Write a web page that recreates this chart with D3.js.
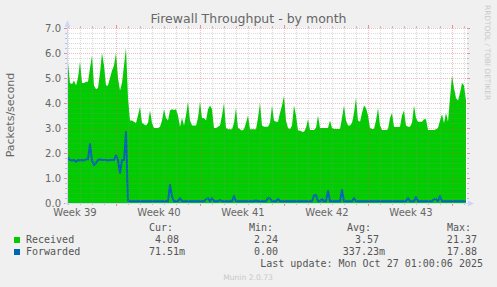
<!DOCTYPE html>
<html>
<head>
<meta charset="utf-8">
<script src="https://cdn.jsdelivr.net/npm/d3@7"></script>
<style>
  html, body { margin: 0; padding: 0; background: #F0F0F0; }
  svg { display: block; }
  text { font-family: "DejaVu Sans", sans-serif; }
  .mono { font-family: "DejaVu Sans Mono", monospace; }
</style>
</head>
<body>
<svg id="chart" width="497" height="287"></svg>
<script>
// ---------------- DATA ----------------
const title = "Firewall Throughput - by month";
const yAxisLabel = "Packets/second";
const yTicks = [0, 1, 2, 3, 4, 5, 6, 7];
const graphStart = Date.UTC(2025, 8, 23, 22, 0);   // Sep 23 22:00
const graphHours = 800;                              // 48000 minutes
const stepHours = 4;                                 // one sample per 4 h

// Received packets/second, one value per 4-hour step
const received = [
  5.6, 4.8, 4.75, 4.9, 4.7, 5.0, 5.65, 4.8, 4.8, 4.85,
  4.85, 5.4, 5.9, 4.7, 4.55, 4.6, 5.2, 6.0, 5.5, 4.7,
  4.7, 5.0, 5.3, 5.5, 6.0, 5.0, 4.5, 4.8, 5.5, 6.2,
  4.2, 3.3, 3.3, 3.25, 3.2, 3.5, 3.85, 3.2, 3.15, 3.1,
  3.2, 3.7, 3.2, 3.0, 3.0, 3.0, 3.05, 3.3, 3.75, 3.4,
  3.3, 3.7, 3.75, 3.72, 3.75, 3.5, 3.05, 3.4, 3.1, 3.5,
  4.05, 3.3, 3.1, 3.1, 3.1, 3.4, 4.05, 3.4, 3.4, 3.3,
  3.75, 3.9, 3.75, 3.0, 3.0, 3.05, 3.1, 3.5, 4.0, 3.0,
  2.95, 2.95, 2.95, 3.2, 3.8, 3.0, 2.95, 2.9, 2.95, 3.2,
  3.5, 2.95, 2.95, 2.95, 2.95, 3.4, 4.0, 3.1, 3.05, 3.05,
  3.05, 3.2, 3.9, 3.3, 3.25, 3.25, 3.6, 3.9, 4.28, 3.3,
  3.0, 2.95, 3.1, 3.9, 3.5, 2.9, 2.9, 2.85, 2.85, 3.0,
  3.35, 2.92, 2.92, 2.92, 3.0, 3.5, 3.0, 3.0, 3.0, 3.0,
  3.0, 3.3, 3.0, 2.96, 2.96, 2.96, 2.96, 3.4, 3.9, 3.3,
  3.1, 3.1, 3.2, 3.6, 4.2, 3.3, 3.25, 3.6, 3.9, 3.8,
  3.5, 3.0, 2.96, 2.96, 3.3, 3.8, 3.1, 2.92, 2.92, 2.92,
  2.95, 3.4, 3.6, 3.05, 3.04, 3.04, 3.05, 3.5, 3.7, 3.1,
  3.05, 3.05, 3.2, 3.9, 3.4, 3.25, 3.25, 3.25, 3.35, 3.35,
  2.92, 2.92, 2.92, 2.92, 2.95, 3.0, 3.3, 3.55, 3.2, 3.6,
  3.25, 4.2, 5.1, 4.6, 4.2, 4.1, 4.4, 4.8, 4.7, 4.1
];

// Forwarded packets/second, one value per 4-hour step
const forwarded = [
  1.8, 1.72, 1.7, 1.72, 1.65, 1.72, 1.7, 1.72, 1.7, 1.75,
  1.75, 2.36, 1.7, 1.52, 1.6, 1.72, 1.75, 1.72, 1.72, 1.72,
  1.7, 1.72, 1.72, 1.72, 1.9, 1.72, 1.2, 1.72, 1.72, 2.84,
  0.1, 0.07, 0.07, 0.07, 0.07, 0.07, 0.07, 0.07, 0.07, 0.07,
  0.07, 0.07, 0.07, 0.07, 0.07, 0.07, 0.07, 0.07, 0.07, 0.07,
  0.07, 0.72, 0.25, 0.07, 0.07, 0.07, 0.2, 0.07, 0.07, 0.07,
  0.07, 0.07, 0.07, 0.07, 0.07, 0.07, 0.07, 0.07, 0.07, 0.15,
  0.2, 0.07, 0.2, 0.07, 0.07, 0.07, 0.12, 0.07, 0.07, 0.07,
  0.07, 0.07, 0.07, 0.28, 0.07, 0.07, 0.07, 0.07, 0.07, 0.07,
  0.07, 0.07, 0.07, 0.07, 0.1, 0.07, 0.07, 0.07, 0.07, 0.07,
  0.2, 0.18, 0.07, 0.07, 0.07, 0.16, 0.07, 0.07, 0.07, 0.07,
  0.07, 0.07, 0.07, 0.07, 0.07, 0.07, 0.07, 0.07, 0.07, 0.07,
  0.07, 0.07, 0.07, 0.3, 0.32, 0.07, 0.07, 0.16, 0.07, 0.07,
  0.48, 0.07, 0.07, 0.07, 0.07, 0.07, 0.07, 0.52, 0.07, 0.07,
  0.07, 0.07, 0.07, 0.2, 0.07, 0.07, 0.07, 0.07, 0.07, 0.07,
  0.07, 0.07, 0.07, 0.07, 0.07, 0.07, 0.07, 0.07, 0.07, 0.07,
  0.07, 0.07, 0.07, 0.07, 0.07, 0.07, 0.07, 0.07, 0.07, 0.07,
  0.2, 0.07, 0.07, 0.07, 0.24, 0.07, 0.07, 0.07, 0.07, 0.07,
  0.07, 0.07, 0.07, 0.15, 0.15, 0.07, 0.28, 0.07, 0.07, 0.07,
  0.07, 0.07, 0.07, 0.07, 0.07, 0.07, 0.07, 0.07, 0.07, 0.07
];

const seriesNames = ["Received", "Forwarded"];
const seriesColors = ["#00CC00", "#0066B3"];
const statHeaders = ["Cur:", "Min:", "Avg:", "Max:"];
const statValues = [
  ["4.08", "2.24", "3.57", "21.37"],
  ["71.51m", "0.00", "337.23m", "17.88"]
];
const lastUpdate = "Last update: Mon Oct 27 01:00:06 2025";
const versionText = "Munin 2.0.73";
const watermark = "RRDTOOL / TOBI OETIKER";

// ---------------- DRAW ----------------
const svg = d3.select("#chart");
const W = 497, H = 287;
const plot = { left: 67, right: 467, top: 28, bottom: 203 };
const HOUR = 3600 * 1000;
const graphEnd = graphStart + graphHours * HOUR;

const x = d3.scaleUtc().domain([graphStart, graphEnd]).range([plot.left, plot.right]);
const y = d3.scaleLinear().domain([0, 7]).range([plot.bottom, plot.top]);

svg.append("rect").attr("width", W).attr("height", H).attr("fill", "#F0F0F0");
svg.append("rect")
  .attr("x", plot.left).attr("y", plot.top)
  .attr("width", plot.right - plot.left).attr("height", plot.bottom - plot.top)
  .attr("fill", "#FFFFFF");

const sampleTime = i => graphStart + (i * stepHours + stepHours / 2) * HOUR;
const recData = received.map((v, i) => ({ t: sampleTime(i), v }));
const fwdData = forwarded.map((v, i) => ({ t: sampleTime(i), v }));

const recPts = [{ t: graphStart, v: received[0] }, ...recData];
const fwdPts = [{ t: graphStart, v: forwarded[0] }, ...fwdData];

svg.append("path")
  .datum(recPts)
  .attr("fill", seriesColors[0])
  .attr("d", d3.area().x(d => x(d.t)).y0(y(0)).y1(d => y(d.v)));

svg.append("path")
  .datum(fwdPts)
  .attr("fill", "none")
  .attr("stroke", seriesColors[1])
  .attr("stroke-width", 2)
  .attr("stroke-linejoin", "round")
  .attr("d", d3.line().x(d => x(d.t)).y(d => y(d.v)));

// ---- grid (on top, dotted, semi transparent) ----
const gridG = svg.append("g").attr("shape-rendering", "crispEdges");
const minorCol = "rgba(143,143,143,0.33)";
const majorCol = "rgba(222,79,79,0.38)";
const minorTick = "rgba(143,143,143,0.5)";
const majorTick = "rgba(222,79,79,0.6)";

const days = d3.utcDay.range(graphStart, graphEnd);
const weeks = d3.utcSunday.range(graphStart, graphEnd);
const weekSet = new Set(weeks.map(d => +d));

days.filter(d => !weekSet.has(+d)).forEach(d => {
  const px = Math.round(x(d)) + 0.5;
  gridG.append("line").attr("x1", px).attr("x2", px)
    .attr("y1", plot.top).attr("y2", plot.bottom)
    .attr("stroke", minorCol).attr("stroke-dasharray", "1,1");
  gridG.append("line").attr("x1", px).attr("x2", px).attr("y1", plot.bottom).attr("y2", plot.bottom + 2).attr("stroke", minorTick);
  gridG.append("line").attr("x1", px).attr("x2", px).attr("y1", plot.top - 2).attr("y2", plot.top).attr("stroke", minorTick);
});

const minorY = d3.range(0, 7.0001, 0.2).filter(v => Math.abs(v - Math.round(v)) > 0.01);
minorY.forEach(v => {
  const py = Math.round(y(v)) + 0.5;
  gridG.append("line").attr("x1", plot.left).attr("x2", plot.right)
    .attr("y1", py).attr("y2", py)
    .attr("stroke", minorCol).attr("stroke-dasharray", "1,1");
  gridG.append("line").attr("x1", plot.left - 2).attr("x2", plot.left).attr("y1", py).attr("y2", py).attr("stroke", minorTick);
  gridG.append("line").attr("x1", plot.right).attr("x2", plot.right + 2).attr("y1", py).attr("y2", py).attr("stroke", minorTick);
});

weeks.forEach(d => {
  const px = Math.round(x(d)) + 0.5;
  gridG.append("line").attr("x1", px).attr("x2", px)
    .attr("y1", plot.top).attr("y2", plot.bottom)
    .attr("stroke", majorCol).attr("stroke-dasharray", "1,1");
  gridG.append("line").attr("x1", px).attr("x2", px).attr("y1", plot.bottom).attr("y2", plot.bottom + 3).attr("stroke", majorTick);
  gridG.append("line").attr("x1", px).attr("x2", px).attr("y1", plot.top - 3).attr("y2", plot.top).attr("stroke", majorTick);
});

yTicks.forEach(v => {
  const py = Math.round(y(v)) + 0.5;
  if (v > 0) {
    gridG.append("line").attr("x1", plot.left).attr("x2", plot.right)
      .attr("y1", py).attr("y2", py)
      .attr("stroke", majorCol).attr("stroke-dasharray", "1,1");
  }
  gridG.append("line").attr("x1", plot.left - 3).attr("x2", plot.left).attr("y1", py).attr("y2", py).attr("stroke", majorTick);
  gridG.append("line").attr("x1", plot.right).attr("x2", plot.right + 3).attr("y1", py).attr("y2", py).attr("stroke", majorTick);
});

// ---- axes ----
const axisCol = "#CFD6F8";
svg.append("line").attr("x1", plot.left - 2).attr("x2", plot.right + 2)
  .attr("y1", plot.bottom + 0.5).attr("y2", plot.bottom + 0.5)
  .attr("stroke", axisCol).attr("shape-rendering", "crispEdges");
svg.append("line").attr("x1", plot.left + 0.5).attr("x2", plot.left + 0.5)
  .attr("y1", plot.bottom + 2).attr("y2", plot.top - 4)
  .attr("stroke", axisCol).attr("shape-rendering", "crispEdges");
svg.append("path").attr("fill", axisCol)
  .attr("d", `M${plot.left - 2.5},${plot.top - 1} L${plot.left + 3.5},${plot.top - 1} L${plot.left + 0.5},${plot.top - 8} Z`);
svg.append("path").attr("fill", axisCol)
  .attr("d", `M${plot.right + 1},${plot.bottom - 2.5} L${plot.right + 1},${plot.bottom + 3.5} L${plot.right + 7},${plot.bottom + 0.5} Z`);

// y tick labels
const yAxis = d3.axisLeft(y).tickValues(yTicks).tickFormat(d3.format(".1f")).tickSize(0).tickPadding(6);
const yg = svg.append("g").attr("transform", `translate(${plot.left},0)`).call(yAxis);
yg.select(".domain").remove();
yg.selectAll("text").attr("fill", "#666").attr("font-size", "10px").attr("font-family", "DejaVu Sans, sans-serif");

// week labels, centered in each week
const weekStarts = [d3.utcSunday.offset(weeks[0], -1), ...weeks];
const fmtWeek = d3.utcFormat("%V");
weekStarts.forEach(ws => {
  const mid = +ws + 3.5 * 24 * HOUR;
  if (mid < graphStart || mid > graphEnd) return;
  svg.append("text")
    .attr("x", x(mid) + 1)
    .attr("y", 216)
    .attr("text-anchor", "middle")
    .attr("font-size", "10px")
    .attr("fill", "#666")
    .text("Week " + fmtWeek(new Date(mid)));
});

// title
svg.append("text").attr("x", 248.5).attr("y", 23).attr("text-anchor", "middle")
  .attr("font-size", "12.5px").attr("fill", "#666").text(title);

// y axis label
svg.append("text").attr("transform", "translate(14,115) rotate(-90)")
  .attr("text-anchor", "middle").attr("font-size", "11px").attr("fill", "#666")
  .text(yAxisLabel);

// watermark
svg.append("text").attr("transform", "translate(485,5) rotate(90)")
  .attr("text-anchor", "start").attr("font-size", "7.4px").attr("fill", "#c8c8c8")
  .text(watermark);

// ---- legend ----
const lg = svg.append("g").attr("class", "mono").attr("font-size", "10px").attr("fill", "#555");
const charW = 6.02;
const headerLeft = [149, 249, 347, 447];
const colRight = [185, 284, 385, 483];
statHeaders.forEach((h, j) => {
  lg.append("text").attr("class", "mono").attr("x", headerLeft[j]).attr("y", 231).text(h);
});
seriesNames.forEach((name, i) => {
  const by = 243 + i * 12;
  svg.append("rect").attr("x", 14).attr("y", by - 6).attr("width", 6).attr("height", 6)
    .attr("fill", seriesColors[i]);
  lg.append("text").attr("class", "mono").attr("x", 26).attr("y", by).text(name);
  statValues[i].forEach((val, j) => {
    const hasSuffix = /[a-zA-Z]$/.test(val);
    lg.append("text").attr("class", "mono")
      .attr("x", colRight[j] - (hasSuffix ? 0 : charW))
      .attr("y", by)
      .attr("text-anchor", "end")
      .text(val);
  });
});
lg.append("text").attr("class", "mono").attr("x", 483).attr("y", 267)
  .attr("text-anchor", "end").text(lastUpdate);

svg.append("text").attr("x", 248).attr("y", 280).attr("text-anchor", "middle")
  .attr("font-size", "7.6px").attr("fill", "#c8c8c8").text(versionText);
</script>
</body>
</html>
